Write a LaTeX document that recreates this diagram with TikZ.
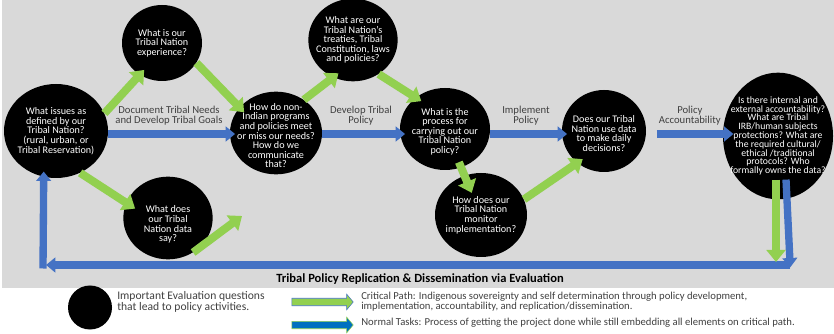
\documentclass[tikz,border=0pt]{standalone}
\usepackage{fontspec}
\setmainfont{Carlito}
\usetikzlibrary{arrows.meta,shapes.geometric,shapes.arrows,calc}

\definecolor{critgreen}{RGB}{146,208,80}
\definecolor{taskblue}{RGB}{68,114,196}
\definecolor{legblue}{RGB}{0,112,192}
\definecolor{panelgray}{RGB}{217,217,217}
\definecolor{lbltext}{RGB}{64,64,64}

\tikzset{
  question/.style={ellipse, fill=black, inner sep=0pt},
  qtext/.style={text=white, align=center, inner sep=0pt, font=\fontsize{7.6}{7.2}\selectfont},
  critarrow/.style={draw=critgreen, line width=6pt, shorten >=-5pt, -{Triangle[width=14pt,length=9pt]}},
  taskarrow/.style={draw=taskblue, line width=5.5pt, shorten >=-4pt, -{Triangle[width=11pt,length=7pt]}},
  steplabel/.style={text=lbltext, align=center, inner sep=0pt, font=\fontsize{8}{7.6}\selectfont},
  legtext/.style={text=lbltext, align=left, inner sep=0pt, anchor=west},
}

\begin{document}
\begin{tikzpicture}[x=0.75pt,y=0.75pt,yscale=-1,xscale=1]
\useasboundingbox (0,0) rectangle (834,334);

%Shape: gray panel
\fill[panelgray] (2,0) rectangle (834,288);

%Question circles
\node[question, minimum width=78pt, minimum height=70.5pt,
  label={[qtext]center:{What issues as\\defined by our\\Tribal Nation?\\(rural, urban, or\\Tribal Reservation)}}] (c1) at (56,131) {};
\node[question, minimum width=60pt, minimum height=57pt,
  label={[qtext]center:{What is our\\Tribal Nation\\experience?}}] (c2) at (162,43) {};
\node[question, minimum width=69pt, minimum height=62pt,
  label={[qtext, yshift=-2pt]center:{How do non-\\Indian programs\\and policies meet\\or miss our needs?\\How do we\\communicate\\that?}}] (c3) at (276,133) {};
\node[question, minimum width=67pt, minimum height=62pt,
  label={[qtext]center:{What are our\\Tribal Nation’s\\treaties, Tribal\\Constitution, laws\\and policies?}}] (c4) at (353,40) {};
\node[question, minimum width=67.5pt, minimum height=61.5pt,
  label={[qtext, yshift=-2pt]center:{What is the\\process for\\carrying out our\\Tribal Nation\\policy?}}] (c5) at (445,129) {};
\node[question, minimum width=69pt, minimum height=63pt,
  label={[qtext]center:{How does our\\Tribal Nation\\monitor\\implementation?}}] (c6) at (481,215) {};
\node[question, minimum width=63pt, minimum height=61.5pt,
  label={[qtext, yshift=-2pt]center:{Does our Tribal\\Nation use data\\to make daily\\decisions?}}] (c7) at (604,131) {};
\node[question, minimum width=82.5pt, minimum height=95pt,
  label={[qtext, font=\fontsize{7.3}{6.6}\selectfont]center:{Is there internal and\\external accountability?\\What are Tribal\\IRB/human subjects\\protections? What are\\the required cultural/\\ethical /traditional\\protocols? Who\\formally owns the data?}}] (c8) at (778,136) {};
\node[question, minimum width=67pt, minimum height=62pt,
  label={[qtext, yshift=-5pt]center:{What does\\our Tribal\\Nation data\\say?}}] (c9) at (168,218) {};

%Free ends
\coordinate (lane) at (0,134);
\coordinate (dataout) at (242,216);
\coordinate (retR) at (790,265);
\coordinate (retL) at (46,265);
\coordinate (retC) at (43,268.5);
\coordinate (downG) at (776,262);

%Normal tasks
\draw[taskarrow] (c1.east |- lane) -- (c3.west |- lane)
  node[midway, above=3.5pt, steplabel] (l1) {Document Tribal Needs\\and Develop Tribal Goals};
\draw[taskarrow] (c3.east |- lane) -- (c5.west |- lane)
  node[midway, above=3.5pt, steplabel] (l2) {Develop Tribal\\Policy};
\draw[taskarrow] (c5.east |- lane) -- (c7.west |- lane)
  node[midway, above=3.5pt, steplabel] (l3) {Implement\\Policy};
\draw[taskarrow, shorten <=8pt, shorten >=-8pt] (c7.east |- lane) -- (c8.west |- lane)
  node[midway, above=3.5pt, steplabel, xshift=4pt] (l4) {Policy\\Accountability};

%Return path
\draw[taskarrow] ($(c8.south)+(8,-20)$) -- (retR |- downG);
\draw[taskarrow, shorten >=0pt] (retR) -- (retL);
\draw[taskarrow] (retC) -- (c1.255);

%Critical path
\draw[critarrow] (c1.20) -- (c2.235);
\draw[critarrow] (c2.-30) -- (c3.145);
\draw[critarrow] (c3.50) -- (c4.242);
\draw[critarrow] (c4.-53) -- (c5.133);
\draw[critarrow, shorten >=-8pt] (c1.-60) -- (c9.160);
\draw[critarrow, shorten >=0pt] (c9.-54) -- (dataout);
\draw[critarrow, shorten <=27pt, shorten >=18pt] (c5.center) -- (c6.center);
\draw[critarrow] (c6.20) -- (c7.230);
\draw[critarrow, shorten >=0pt] ($(c8.south)+(-2,-20)$) -- (downG);

% Text Node
\node[font=\bfseries\fontsize{9.4}{10}\selectfont, inner sep=0pt] (title) at (420,279) {Tribal Policy Replication \& Dissemination via Evaluation};

%Legend
\node[question, minimum width=33pt, minimum height=33pt] (legq) at (90,307.5) {};
\node[legtext, font=\fontsize{8.7}{7.8}\selectfont] (legqt) at (117,302) {Important Evaluation questions\\that lead to policy activities.};
\node[single arrow, fill=critgreen, draw=taskblue, line width=0.4pt, inner sep=2.6pt,
  minimum height=46pt, single arrow head extend=3.2pt, single arrow tip angle=100] (legcrit) at (321,302) {};
\node[single arrow, fill=legblue, draw=critgreen, line width=0.4pt, inner sep=2.6pt,
  minimum height=46pt, single arrow head extend=3.2pt, single arrow tip angle=100] (legtask) at (321,325) {};
\node[legtext, font=\fontsize{8}{7}\selectfont] (legcritt) at (361,301.5) {Critical Path: Indigenous sovereignty and self determination through policy development,\\implementation, accountability, and replication/dissemination.};
\node[legtext, font=\fontsize{8}{7}\selectfont] (legtaskt) at (361,323) {Normal Tasks: Process of getting the project done while still embedding all elements on critical path.};

\end{tikzpicture}
\end{document}
